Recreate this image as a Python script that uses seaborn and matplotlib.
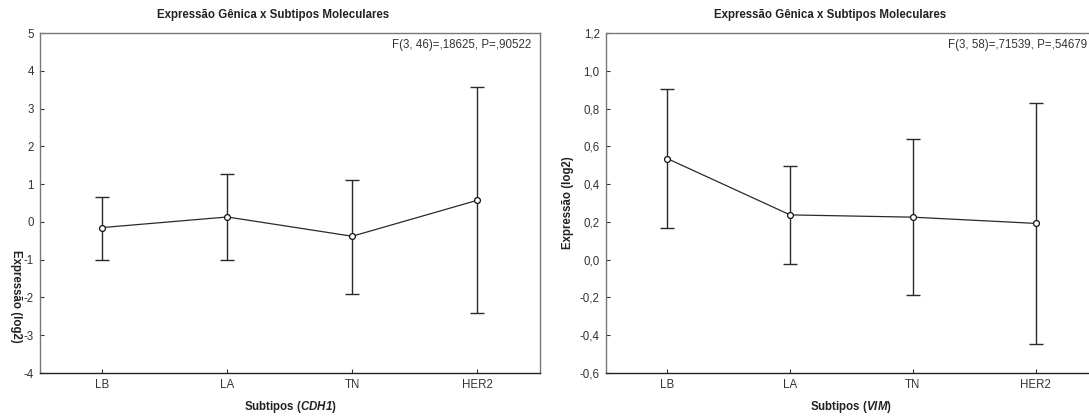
import matplotlib
matplotlib.use("Agg")
import matplotlib.pyplot as plt
import seaborn as sns
import numpy as np

# ---- data ----
subtypes = ["LB", "LA", "TN", "HER2"]

cdh1_mean = [-0.15, 0.13, -0.38, 0.57]
cdh1_upper = [0.67, 1.27, 1.10, 3.58]
cdh1_lower = [-1.00, -1.00, -1.90, -2.42]

vim_mean = [0.535, 0.237, 0.225, 0.192]
vim_upper = [0.905, 0.497, 0.637, 0.828]
vim_lower = [0.170, -0.022, -0.185, -0.445]

cdh1_yticks = [5, 4, 3, 2, 1, 0, -1, -2, -3, -4]
vim_yticks = [1.2, 1.0, 0.8, 0.6, 0.4, 0.2, 0.0, -0.2, -0.4, -0.6]

title_text = "Expressão Gênica x Subtipos Moleculares"
cdh1_stat = "F(3, 46)=,18625, P=,90522"
vim_stat = "F(3, 58)=,71539, P=,54679"
ylabel_text = "Expressão (log2)"
xlabel_prefix = "Subtipos ("
cdh1_gene = "CDH1"
vim_gene = "VIM"

sns.set_theme(style="white")
plt.rcParams["font.family"] = ["Liberation Sans", "DejaVu Sans"]
plt.rcParams["mathtext.fontset"] = "custom"
plt.rcParams["mathtext.rm"] = "Liberation Sans"
plt.rcParams["mathtext.bf"] = "Liberation Sans:bold"
plt.rcParams["mathtext.it"] = "Liberation Sans:italic"
plt.rcParams["mathtext.bfit"] = "Liberation Sans:bold:italic"

W, H = 1089, 416
fig = plt.figure(figsize=(W / 100, H / 100), dpi=100)

def px_axes(x0, x1, y0, y1):
    return fig.add_axes([x0 / W, (H - y1) / H, (x1 - x0) / W, (y1 - y0) / H])

axL = px_axes(40, 539.5, 33, 373)
axR = px_axes(606, 1097, 33, 373)

FS = 8.3
LINE_C = "#2a2a2a"

def draw(ax, mean, upper, lower, yticks, fmt):
    pos = np.arange(len(subtypes))
    mean = np.asarray(mean)
    yerr = np.vstack([mean - np.asarray(lower), np.asarray(upper) - mean])
    ax.errorbar(pos, mean, yerr=yerr, fmt="none", ecolor=LINE_C,
                elinewidth=1.0, capsize=4.7, capthick=1.0, zorder=2)
    sns.lineplot(x=pos, y=mean, ax=ax, color=LINE_C, linewidth=0.9,
                 marker="o", markersize=4.2, markerfacecolor="white",
                 markeredgecolor="#111111", markeredgewidth=0.9, zorder=3)
    ax.set_xlim(-0.5, len(subtypes) - 0.5)
    ax.set_ylim(min(yticks), max(yticks))
    ax.set_xticks(pos)
    ax.set_xticklabels(subtypes)
    ax.set_yticks(yticks)
    ax.set_yticklabels([fmt(v) for v in yticks])
    ax.tick_params(axis="both", labelsize=FS, colors="#333333", direction="in",
                   length=3, width=0.8, left=True, bottom=True, pad=4.5,
                   labelcolor="#333333")
    for s in ["top", "right", "left"]:
        ax.spines[s].set_color("#777777")
        ax.spines[s].set_linewidth(1.0)
    ax.spines["bottom"].set_color("#222222")
    ax.spines["bottom"].set_linewidth(1.0)
    ax.grid(False)

draw(axL, cdh1_mean, cdh1_upper, cdh1_lower, cdh1_yticks,
     lambda v: f"{v:d}")
draw(axR, vim_mean, vim_upper, vim_lower, vim_yticks,
     lambda v: f"{v:.1f}".replace(".", ",").replace("-0,0", "0,0"))
axR.spines["right"].set_visible(False)

def fx(x): return x / W
def fy(y): return (H - y) / H

# titles
fig.text(fx(273), fy(15), title_text, ha="center", va="center",
         fontsize=FS, fontweight="bold", color="#222222")
fig.text(fx(830), fy(15), title_text, ha="center", va="center",
         fontsize=FS, fontweight="bold", color="#222222")

# stats annotations
fig.text(fx(531), fy(45), cdh1_stat, ha="right", va="center",
         fontsize=FS, color="#333333")
fig.text(fx(1087), fy(45), vim_stat, ha="right", va="center",
         fontsize=FS, color="#333333")

# x labels
axL.set_xlabel(xlabel_prefix + "$\\mathbfit{" + cdh1_gene + "}$)", fontsize=FS,
               fontweight="bold", color="#222222")
axL.xaxis.set_label_coords(fx(290), fy(407), transform=fig.transFigure)
axL.xaxis.label.set_va("center")
axR.set_xlabel(xlabel_prefix + "$\\mathbfit{" + vim_gene + "}$)", fontsize=FS,
               fontweight="bold", color="#222222")
axR.xaxis.set_label_coords(fx(851), fy(407), transform=fig.transFigure)
axR.xaxis.label.set_va("center")

# y labels
axL.set_ylabel(ylabel_text, fontsize=FS, fontweight="bold", color="#222222",
               rotation=-90)
axL.yaxis.set_label_coords(fx(16), fy(296), transform=fig.transFigure)
axL.yaxis.label.set_va("center")
axL.yaxis.label.set_ha("center")
axR.set_ylabel(ylabel_text, fontsize=FS, fontweight="bold", color="#222222")
axR.yaxis.set_label_coords(fx(567.5), fy(203), transform=fig.transFigure)
axR.yaxis.label.set_va("center")

fig.savefig("out.png", dpi=100)
